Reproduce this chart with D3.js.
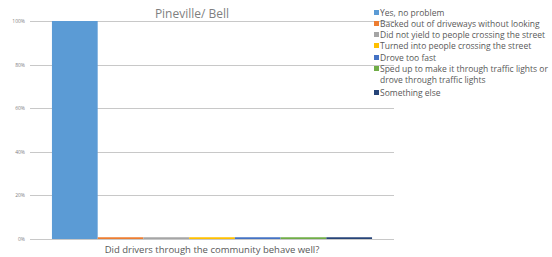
<!DOCTYPE html>
<html>
<head>
<meta charset="utf-8">
<script src="https://cdn.jsdelivr.net/npm/d3@7"></script>
<style>
  body { margin: 0; background: #fff; }
  text { font-family: "Open Sans", "Liberation Sans", sans-serif; }
</style>
</head>
<body>
<script>
var series = ["Yes, no problem",
  "Backed out of driveways without looking",
  "Did not yield to people crossing the street",
  "Turned into people crossing the street",
  "Drove too fast",
  "Sped up to make it through traffic lights or drove through traffic lights",
  "Something else"];
var values = [100, 0.8, 0.8, 0.8, 0.8, 0.8, 0.8];
var colors = ["#5b9bd5", "#ed7d31", "#a5a5a5", "#ffc000", "#4472c4", "#70ad47", "#264478"];
var yTicks = [0, 20, 40, 60, 80, 100];
var legendLines = [["Yes, no problem"],
  ["Backed out of driveways without looking"],
  ["Did not yield to people crossing the street"],
  ["Turned into people crossing the street"],
  ["Drove too fast"],
  ["Sped up to make it through traffic lights or", "drove through traffic lights"],
  ["Something else"]];

var svg = d3.select("body").append("svg")
  .attr("width", 552)
  .attr("height", 257);

var plotLeft = 30, plotRight = 394, plotTop = 21, plotBottom = 239;

var x = d3.scaleBand()
  .domain(series)
  .range([plotLeft, plotRight])
  .paddingInner(0)
  .paddingOuter(0.48);

var y = d3.scaleLinear()
  .domain([0, 100])
  .range([plotBottom, plotTop]);

// gridlines
svg.append("g").selectAll("line")
  .data(yTicks)
  .enter().append("line")
  .attr("x1", plotLeft)
  .attr("x2", plotRight)
  .attr("y1", function(d) { return Math.round(y(d)) + 0.5; })
  .attr("y2", function(d) { return Math.round(y(d)) + 0.5; })
  .attr("stroke", "#c8c8c8")
  .attr("stroke-width", 1);

// tick labels
svg.append("g").selectAll("text")
  .data(yTicks)
  .enter().append("text")
  .attr("x", 25)
  .attr("y", function(d) { return y(d) + 2; })
  .attr("text-anchor", "end")
  .attr("font-size", 5)
  .attr("fill", "#7f7f7f")
  .text(function(d) { return d + "%"; });

// bars
svg.append("g").selectAll("rect")
  .data(values)
  .enter().append("rect")
  .attr("x", function(d, i) { return x(series[i]); })
  .attr("y", function(d) { return y(d); })
  .attr("width", x.bandwidth())
  .attr("height", function(d) { return plotBottom - y(d); })
  .attr("fill", function(d, i) { return colors[i]; });

// title
svg.append("text")
  .attr("x", 192)
  .attr("y", 18)
  .attr("text-anchor", "middle")
  .attr("font-size", 12)
  .attr("fill", "#7f7f7f")
  .text("Pineville/ Bell");

// x axis title
svg.append("text")
  .attr("x", 212)
  .attr("y", 253)
  .attr("text-anchor", "middle")
  .attr("font-size", 9.5)
  .attr("fill", "#595959")
  .text("Did drivers through the community behave well?");

// legend
var ly = [13, 24, 35, 46, 58, 69, 93];
var legend = svg.append("g");
legendLines.forEach(function(lines, i) {
  legend.append("rect")
    .attr("x", 374)
    .attr("y", ly[i] - 3)
    .attr("width", 5)
    .attr("height", 5)
    .attr("fill", colors[i]);
  lines.forEach(function(t, j) {
    legend.append("text")
      .attr("x", 380)
      .attr("y", ly[i] + 3 + j * 11)
      .attr("font-size", 8.5)
      .attr("fill", "#595959")
      .text(t);
  });
});
</script>
</body>
</html>
